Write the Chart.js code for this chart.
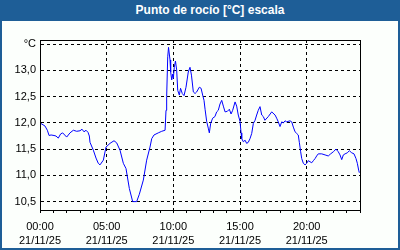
<!DOCTYPE html>
<html>
<head>
<meta charset="utf-8">
<script src="https://cdn.jsdelivr.net/npm/chart.js@4/dist/chart.umd.min.js"></script>
<style>
  html, body { margin: 0; padding: 0; background: #fcfffc; }
  #frame { position: absolute; left: 0; top: 0; width: 400px; height: 250px; box-sizing: border-box;
           border: 2px solid #1e5e97; border-top: none; background: #fcfffc; }
  #title { position: absolute; left: 0; top: 0; width: 400px; height: 21px; background: #1e5e97;
           color: #fff; font: bold 12px "Liberation Sans", Arial, sans-serif; line-height: 20px;
           text-align: center; box-sizing: border-box; padding-left: 20px; }
  #c { position: absolute; left: 0; top: 0; }
</style>
</head>
<body>
<div id="frame"></div>
<div id="title">Punto de rocío [°C] escala</div>
<canvas id="c" width="400" height="250"></canvas>
<script>
// Hours since 00:00 on 21/11/25
const hours = [0,0.375,0.55,0.68,0.83,1.05,1.2,1.37,1.55,1.7,2.0,2.25,2.5,2.75,3.0,3.15,3.3,3.45,3.6,3.7,3.75,4.0,4.2,4.37,4.5,4.75,4.95,5.25,5.55,5.75,6.0,6.25,6.45,6.7,6.95,7.25,7.45,7.75,8.0,8.25,8.38,8.55,8.87,9.13,9.38,9.45,9.5,9.58,9.64,9.75,9.8,9.88,9.95,10.0,10.07,10.16,10.25,10.33,10.45,10.54,10.67,10.8,10.95,11.12,11.25,11.36,11.5,11.63,11.75,11.95,12.08,12.2,12.3,12.38,12.5,12.62,12.7,12.8,12.95,13.12,13.25,13.37,13.5,13.63,13.75,13.88,14.05,14.2,14.33,14.45,14.63,14.75,14.87,15.0,15.08,15.13,15.25,15.38,15.5,15.62,15.75,15.88,16.0,16.13,16.25,16.37,16.5,16.63,16.75,16.87,17.12,17.38,17.63,17.75,17.87,18.0,18.13,18.25,18.38,18.5,18.75,18.88,19.0,19.13,19.25,19.37,19.45,19.55,19.63,19.75,19.88,20.0,20.12,20.25,20.38,20.5,20.63,20.75,20.87,21.13,21.38,21.62,21.8,22.0,22.2,22.37,22.5,22.63,22.75,22.88,23.05,23.2,23.38,23.55,23.7,23.8,23.9,23.95];
const dewPoint = [12.00,11.94,11.86,11.76,11.77,11.76,11.75,11.71,11.79,11.81,11.73,11.81,11.86,11.84,11.85,11.88,11.83,11.86,11.82,11.75,11.63,11.48,11.33,11.23,11.20,11.29,11.54,11.61,11.66,11.62,11.48,11.23,11.13,10.75,10.50,10.50,10.64,10.91,11.29,11.54,11.70,11.77,11.81,11.84,11.86,12.24,12.50,13.26,13.44,13.20,12.97,12.82,12.93,12.85,13.06,13.18,13.01,12.62,12.53,12.66,12.56,12.52,12.68,12.97,13.06,12.91,12.59,12.56,12.59,12.68,12.66,12.53,12.43,12.26,12.03,11.90,11.81,11.99,12.09,12.12,12.21,12.24,12.36,12.43,12.32,12.21,12.22,12.26,12.17,12.24,12.40,12.32,12.15,12.03,11.81,11.70,11.64,11.67,11.61,11.63,11.70,11.80,11.99,12.05,12.15,12.24,12.31,12.15,12.12,12.05,12.12,12.21,12.15,12.09,12.02,11.93,12.02,12.00,12.04,12.02,12.04,12.02,11.92,11.83,11.80,11.77,11.63,11.45,11.32,11.23,11.20,11.23,11.28,11.26,11.24,11.28,11.32,11.37,11.41,11.41,11.39,11.37,11.41,11.45,11.50,11.45,11.39,11.30,11.39,11.41,11.43,11.47,11.43,11.41,11.32,11.23,11.10,11.05];
const yTicks = [10.5, 11.0, 11.5, 12.0, 12.5, 13.0, 13.5];
const yUnitLabel = '°C';
const xLabelHours = [0, 5, 10, 15, 20];
const xTimeLabels = ['00:00', '05:00', '10:00', '15:00', '20:00'];
const dateLabel = '21/11/25';

const points = hours.map((h, i) => ({ x: h, y: dewPoint[i] }));

const boxPlugin = {
  id: 'box',
  afterDraw(chart) {
    const { ctx, chartArea: a } = chart;
    ctx.save();
    ctx.strokeStyle = '#000';
    ctx.lineWidth = 1;
    ctx.setLineDash([]);
    ctx.strokeRect(Math.round(a.left) + 0.5, Math.round(a.top) + 0.5,
                   Math.round(a.right - a.left), Math.round(a.bottom - a.top));
    ctx.restore();
  }
};

new Chart(document.getElementById('c'), {
  type: 'line',
  data: {
    datasets: [{
      data: points,
      borderColor: '#0000ff',
      borderWidth: 1,
      pointRadius: 0,
      tension: 0,
      fill: false
    }]
  },
  options: {
    responsive: false,
    animation: false,
    events: [],
    layout: { padding: { left: 0, top: 40, right: 40, bottom: 0 } },
    plugins: { legend: { display: false }, title: { display: false }, tooltip: { enabled: false } },
    scales: {
      x: {
        type: 'linear',
        min: 0, max: 24,
        afterBuildTicks: s => { s.ticks = Array.from({ length: 25 }, (_, i) => ({ value: i })); },
        afterFit: s => { s.height = 40; },
        border: { display: true, color: '#000', width: 1, dash: [3, 3] },
        grid: {
          color: c => (c.tick && c.tick.value % 5 === 0 && c.tick.value !== 0) ? '#000' : 'rgba(0,0,0,0)',
          tickColor: '#000',
          tickLength: 3,
          tickBorderDash: [],
          lineWidth: 1,
          drawTicks: true
        },
        ticks: {
          autoSkip: false,
          maxRotation: 0,
          padding: 7,
          color: '#000',
          font: { family: '"Liberation Sans", Arial, sans-serif', size: 11, lineHeight: 1.3 },
          callback: v => {
            const k = xLabelHours.indexOf(v);
            return k >= 0 ? [xTimeLabels[k], dateLabel] : '';
          }
        }
      },
      y: {
        type: 'linear',
        min: 10.34, max: 13.58,
        afterBuildTicks: s => { s.ticks = yTicks.map(v => ({ value: v })); },
        afterFit: s => { s.width = 40; },
        border: { display: true, color: '#000', width: 1, dash: [3, 3] },
        grid: {
          color: '#000',
          lineWidth: 1,
          drawTicks: false
        },
        ticks: {
          padding: 4,
          color: '#000',
          font: { family: '"Liberation Sans", Arial, sans-serif', size: 11 },
          callback: v => v === 13.5 ? yUnitLabel : v.toFixed(1).replace('.', ',')
        }
      }
    }
  },
  plugins: [boxPlugin]
});
</script>
</body>
</html>
